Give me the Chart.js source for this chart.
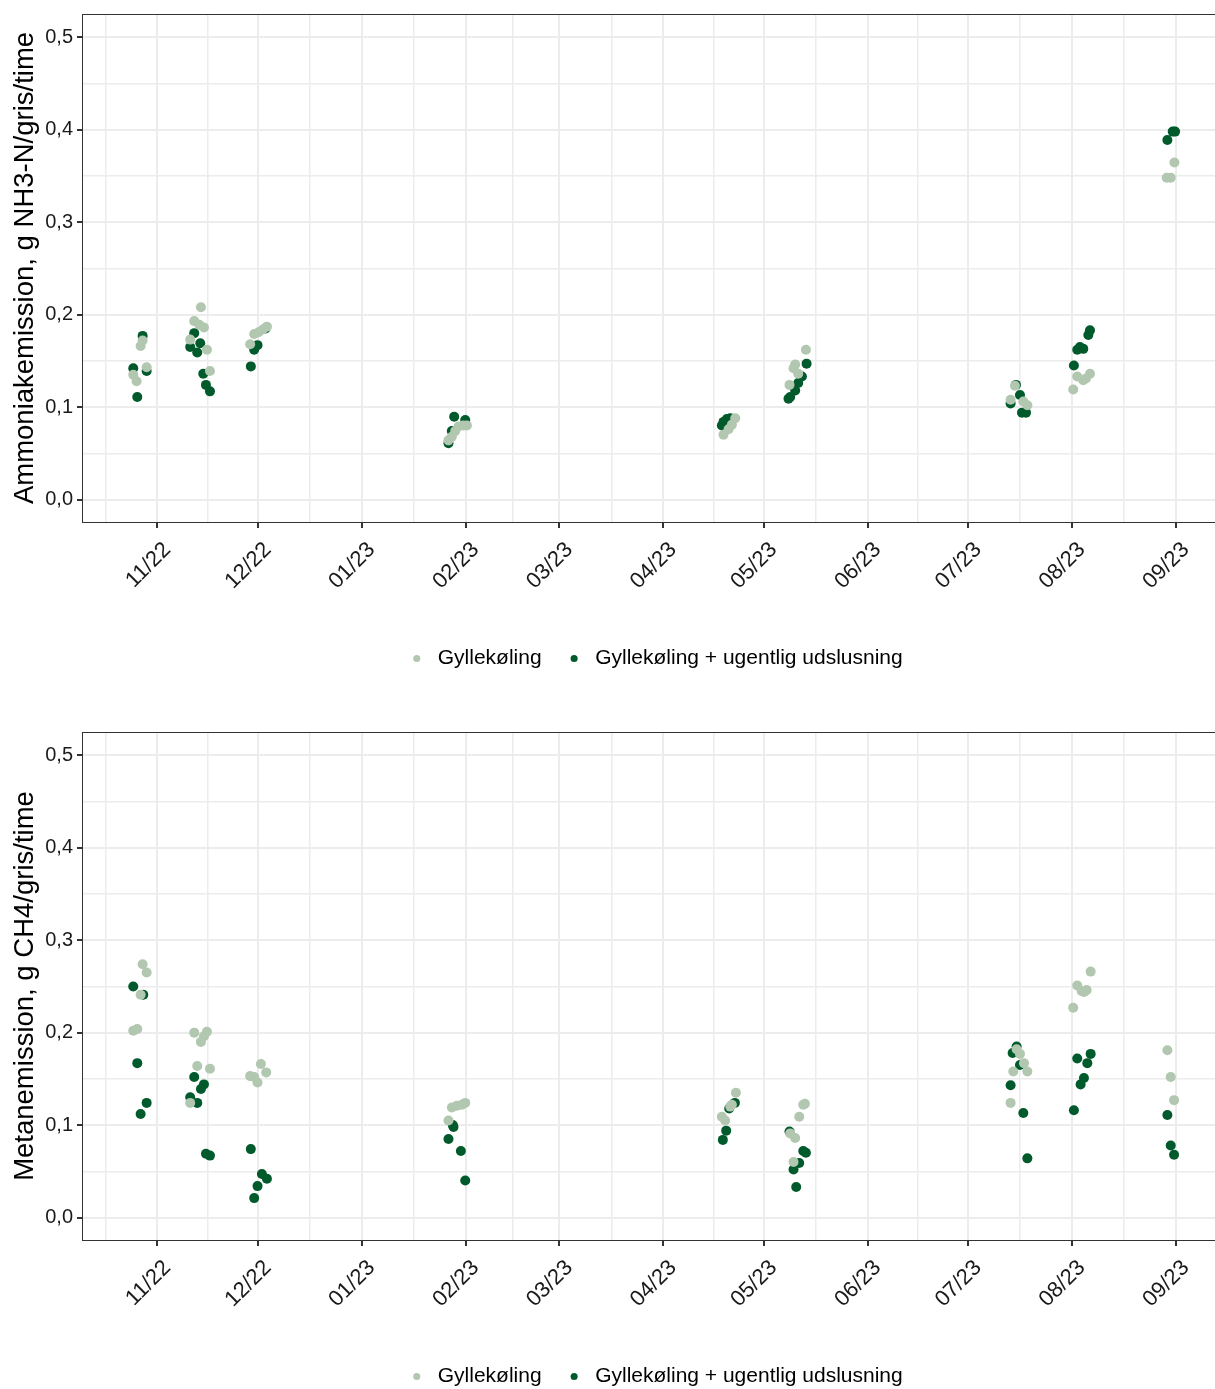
<!DOCTYPE html>
<html>
<head>
<meta charset="utf-8">
<script src="https://cdn.jsdelivr.net/npm/chart.js@4.4.0/dist/chart.umd.min.js"></script>
<style>
    html, body { margin: 0; padding: 0; background: #fff; overflow: hidden; }
    .panel { width: 1240px; height: 718px; }
</style>
</head>
<body>
<div class="panel"><canvas id="nh3Chart" width="1240" height="718"></canvas></div>
<div class="panel"><canvas id="ch4Chart" width="1240" height="718"></canvas></div>
<script>
// x values are days counted from 1 Nov 2022
const monthDays = [0, 30, 61, 92, 120, 151, 181, 212, 242, 273, 304];
const monthLabels = ['11/22', '12/22', '01/23', '02/23', '03/23', '04/23', '05/23', '06/23', '07/23', '08/23', '09/23'];
const midMonthDays = [-15.5, 15, 45.5, 76.5, 106, 135.5, 166, 196.5, 227, 257.5, 288.5, 319];
const yTickValues = [0, 0.05, 0.1, 0.15, 0.2, 0.25, 0.3, 0.35, 0.4, 0.45, 0.5];

const seriesNames = ['Gyllekøling', 'Gyllekøling + ugentlig udslusning'];

// Ammoniakemission
const nh3CoolDays = [-5.0, -4.4, -3.2, -7.2, -6.2,
    13.0, 11.0, 12.5, 13.9, 9.8, 14.8, 15.7,
    27.7, 28.9, 30.2, 31.5, 32.7,
    91.3, 89.9, 92.4, 87.9, 86.9, 88.9,
    172.5, 171.5, 170.5, 169.0,
    193.6, 190.4, 189.9, 191.3, 188.7,
    256.0, 254.7, 258.5, 259.7,
    273.4, 274.6, 276.4, 278.4, 277.2,
    303.6, 301.3, 302.5];
const nh3CoolVals = [0.166, 0.172, 0.143, 0.135, 0.128,
    0.208, 0.193, 0.189, 0.186, 0.173, 0.162, 0.139,
    0.168, 0.179, 0.181, 0.184, 0.187,
    0.080, 0.079, 0.080, 0.068, 0.064, 0.074,
    0.088, 0.081, 0.076, 0.070,
    0.162, 0.146, 0.142, 0.136, 0.124,
    0.123, 0.108, 0.106, 0.102,
    0.119, 0.133, 0.129, 0.136, 0.131,
    0.3645, 0.348, 0.348];
const nh3FlushDays = [-4.4, -7.2, -3.2, -6.0,
    11.0, 12.8, 9.8, 11.9, 13.7, 14.5, 15.7,
    29.9, 28.9, 27.9, 32.3,
    88.6, 91.9, 87.9, 86.9,
    168.5, 169.0, 170.0, 171.0,
    193.8, 192.4, 191.3, 190.4, 188.9, 188.4,
    256.3, 257.5, 254.7, 259.3, 258.1,
    278.4, 277.9, 276.4, 275.4, 274.6, 273.6,
    303.1, 303.8, 301.5];
const nh3FlushVals = [0.177, 0.142, 0.139, 0.111,
    0.180, 0.169, 0.165, 0.159, 0.136, 0.124, 0.117,
    0.167, 0.162, 0.144, 0.185,
    0.0895, 0.086, 0.074, 0.061,
    0.080, 0.084, 0.087, 0.088,
    0.147, 0.133, 0.126, 0.118, 0.111, 0.109,
    0.124, 0.113, 0.104, 0.094, 0.094,
    0.183, 0.178, 0.163, 0.165, 0.162, 0.145,
    0.398, 0.398, 0.389];

// Metanemission
const ch4CoolDays = [-4.4, -3.2, -5.0, -7.2, -6.0,
    11.0, 14.8, 13.9, 13.0, 11.9, 15.7, 9.8,
    30.9, 32.5, 27.7, 28.9, 29.9,
    87.9, 89.4, 90.9, 91.9, 86.9,
    172.7, 171.5, 171.0, 168.5, 169.5,
    193.3, 192.8, 191.6, 188.9, 190.4, 189.9,
    256.5, 257.5, 258.7, 255.5, 259.7, 254.7,
    278.6, 274.6, 275.9, 277.4, 276.6, 273.4,
    301.5, 302.5, 303.5];
const ch4CoolVals = [0.274, 0.265, 0.241, 0.202, 0.204,
    0.200, 0.201, 0.196, 0.190, 0.164, 0.161, 0.124,
    0.166, 0.157, 0.153, 0.152, 0.146,
    0.119, 0.121, 0.122, 0.124, 0.105,
    0.135, 0.122, 0.120, 0.109, 0.105,
    0.123, 0.122, 0.109, 0.091, 0.086, 0.060,
    0.182, 0.177, 0.167, 0.158, 0.158, 0.124,
    0.266, 0.251, 0.245, 0.246, 0.244, 0.227,
    0.181, 0.152, 0.127];
const ch4FlushDays = [-7.2, -4.2, -6.0, -3.2, -5.0,
    11.0, 13.9, 13.0, 9.8, 11.9, 14.5, 15.7,
    27.9, 31.2, 32.7, 29.9, 28.9,
    88.4, 88.2, 86.9, 90.6, 91.9,
    172.4, 170.7, 169.8, 168.8,
    188.7, 192.8, 193.6, 191.6, 189.9, 190.7,
    256.5, 255.3, 257.5, 254.7, 258.5, 259.7,
    278.6, 274.6, 277.6, 276.6, 275.6, 273.6,
    301.5, 302.5, 303.5];
const ch4FlushVals = [0.250, 0.241, 0.167, 0.124, 0.112,
    0.152, 0.144, 0.139, 0.130, 0.124, 0.069, 0.067,
    0.074, 0.047, 0.042, 0.034, 0.021,
    0.098, 0.100, 0.085, 0.072, 0.040,
    0.124, 0.118, 0.094, 0.084,
    0.093, 0.072, 0.070, 0.059, 0.052, 0.033,
    0.185, 0.178, 0.165, 0.143, 0.113, 0.064,
    0.177, 0.172, 0.167, 0.151, 0.144, 0.116,
    0.111, 0.078, 0.068];

const lightGreen = '#b2c7b0';
const darkGreen = '#005a2b';
const gridColor = '#ececec';
const axisColor = '#333333';

Chart.defaults.font.family = '"Liberation Sans", Arial, sans-serif';

const xGridDays = monthDays.concat(midMonthDays).sort((a, b) => a - b);

function isMajorY(v) {
    return Math.round(v * 100) % 10 === 0;
}

// ggplot style box round the panel
const panelBorder = {
    id: 'panelBorder',
    afterDatasetsDraw(chart) {
        const { ctx, chartArea } = chart;
        ctx.save();
        ctx.strokeStyle = axisColor;
        ctx.lineWidth = 1;
        ctx.strokeRect(chartArea.left + 0.5, chartArea.top + 0.5,
            chartArea.right - chartArea.left, chartArea.bottom - chartArea.top);
        ctx.restore();
    }
};

function toPoints(days, vals) {
    return days.map((d, i) => ({ x: d, y: vals[i] }));
}

function makeChart(canvasId, yTitle, coolDays, coolVals, flushDays, flushVals) {
    const ctx = document.getElementById(canvasId).getContext('2d');
    return new Chart(ctx, {
        type: 'scatter',
        data: {
            datasets: [{
                label: seriesNames[0],
                data: toPoints(coolDays, coolVals),
                backgroundColor: lightGreen,
                borderColor: lightGreen,
                borderWidth: 0,
                pointRadius: 5,
                pointHoverRadius: 5
            }, {
                label: seriesNames[1],
                data: toPoints(flushDays, flushVals),
                backgroundColor: darkGreen,
                borderColor: darkGreen,
                borderWidth: 0,
                pointRadius: 5,
                pointHoverRadius: 5
            }]
        },
        options: {
            responsive: false,
            animation: false,
            events: [],
            layout: { padding: { top: 14, right: 13, bottom: 39, left: 0 } },
            scales: {
                x: {
                    type: 'linear',
                    min: -22.5,
                    max: 319.3,
                    afterBuildTicks(scale) {
                        scale.ticks = xGridDays.map(v => ({ value: v }));
                    },
                    afterFit(scale) {
                        scale.height = 104;
                        scale.paddingLeft = 0;
                        scale.paddingRight = 0;
                    },
                    border: { display: false },
                    grid: {
                        color: gridColor,
                        lineWidth: c => monthDays.includes(c.tick.value) ? 2 : 1.5,
                        tickLength: 6,
                        tickColor: c => monthDays.includes(c.tick.value) ? axisColor : 'rgba(0,0,0,0)'
                    },
                    ticks: {
                        autoSkip: false,
                        minRotation: 45,
                        maxRotation: 45,
                        padding: 9,
                        labelOffset: 10,
                        color: '#1a1a1a',
                        font: { size: 22 },
                        callback(value) {
                            const i = monthDays.indexOf(value);
                            return i >= 0 ? monthLabels[i] : '';
                        }
                    }
                },
                y: {
                    min: -0.0243,
                    max: 0.5252,
                    afterBuildTicks(scale) {
                        scale.ticks = yTickValues.map(v => ({ value: v }));
                    },
                    afterFit(scale) {
                        scale.width = 82;
                    },
                    border: { display: false },
                    grid: {
                        color: gridColor,
                        lineWidth: c => isMajorY(c.tick.value) ? 2 : 1.5,
                        tickLength: 5,
                        tickColor: c => isMajorY(c.tick.value) ? axisColor : 'rgba(0,0,0,0)'
                    },
                    ticks: {
                        padding: 4,
                        color: '#1a1a1a',
                        font: { size: 20, lineHeight: 1 },
                        callback(value) {
                            return isMajorY(value) ? value.toFixed(1).replace('.', ',') : '';
                        }
                    },
                    title: {
                        display: true,
                        text: yTitle,
                        color: '#000',
                        font: { size: 27.5 },
                        padding: { top: 9, bottom: 0 }
                    }
                }
            },
            plugins: {
                tooltip: { enabled: false },
                legend: {
                    position: 'bottom',
                    fullSize: false,
                    labels: {
                        usePointStyle: true,
                        pointStyle: 'circle',
                        boxWidth: 21,
                        boxHeight: 5,
                        padding: 22,
                        color: '#000',
                        font: { size: 21 }
                    }
                }
            }
        },
        plugins: [panelBorder]
    });
}

makeChart('nh3Chart', 'Ammoniakemission, g NH3-N/gris/time',
    nh3CoolDays, nh3CoolVals, nh3FlushDays, nh3FlushVals);
makeChart('ch4Chart', 'Metanemission, g CH4/gris/time',
    ch4CoolDays, ch4CoolVals, ch4FlushDays, ch4FlushVals);
</script>
</body>
</html>
